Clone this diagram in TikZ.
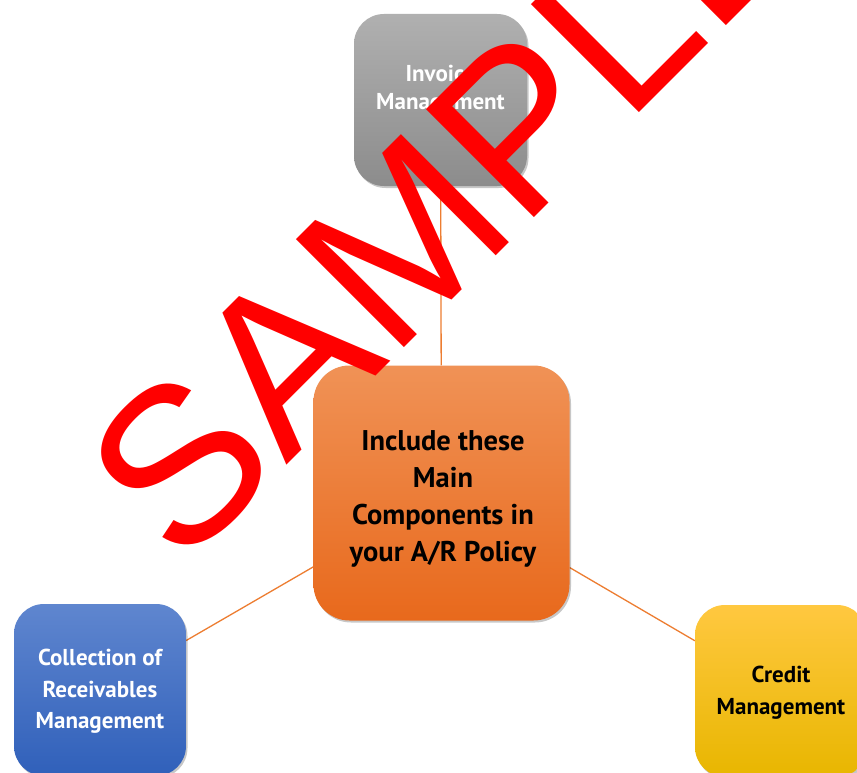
\documentclass[tikz,border=0pt]{standalone}
\usepackage{fontspec}
\setmainfont{PT Sans}
\newfontfamily\wmfont{Liberation Sans}
\usetikzlibrary{shadows}
\pgfdeclarelayer{bg}
\pgfsetlayers{bg,main}
\definecolor{grayT}{HTML}{B0B0B0}
\definecolor{grayB}{HTML}{8C8C8C}
\definecolor{oraT}{HTML}{F09256}
\definecolor{oraB}{HTML}{E8691C}
\definecolor{bluT}{HTML}{5F86CF}
\definecolor{bluB}{HTML}{3060BA}
\definecolor{yelT}{HTML}{FFC840}
\definecolor{yelB}{HTML}{E8B600}
\definecolor{conn}{HTML}{ED7D31}
\definecolor{wmred}{HTML}{FF0000}
\tikzset{
  box/.style={rectangle, rounded corners=30pt, draw=none, inner sep=0pt,
    minimum width=172pt, minimum height=172pt,
    drop shadow={shadow xshift=1.5pt, shadow yshift=-2pt, fill=black, opacity=0.22}},
  lbl/.style={align=center, inner sep=0pt, font=\bfseries\fontsize{23}{28}\selectfont},
  link/.style={draw=conn, line width=1.3pt}
}
\begin{document}
\begin{tikzpicture}[x=1pt,y=-1pt]
\useasboundingbox (0,0) rectangle (857,773);
% boxes
\node[box, top color=grayT, bottom color=grayB, minimum width=173pt] (inv) at (440.5,100) {};
\node[box, top color=oraT, bottom color=oraB, minimum width=256pt, minimum height=255pt, rounded corners=36pt] (ctr) at (441.5,493) {};
\node[box, top color=bluT, bottom color=bluB] (col) at (100,690) {};
\node[box, top color=yelT, bottom color=yelB] (cre) at (781,691) {};
% connectors
\begin{pgfonlayer}{bg}
\fill[white] (0,0) rectangle (857,773);
\draw[link] (ctr) -- (inv);
\draw[link] (ctr) -- (col);
\draw[link] (ctr) -- (cre);
\end{pgfonlayer}
% texts
\node[lbl, text=white] (invt) at (440.5,90) {Invoice\\Management};
\node[lbl, text=white, font=\bfseries\fontsize{23}{31.7}\selectfont] (colt) at (100,691.5) {Collection of\\Receivables\\Management};
\node[lbl, text=black, font=\bfseries\fontsize{23}{32}\selectfont] (cret) at (781,692.5) {Credit\\Management};
\node[lbl, text=black, font=\bfseries\fontsize{28.5}{37}\selectfont] (ctrt) at (443,499) {Include these\\Main\\Components in\\your A/R Policy};
% watermark
\node[anchor=base west, rotate=45, inner sep=0pt, text=wmred, font=\wmfont\fontsize{222}{222}\selectfont] (wm) at (181.6,570.4) {SAMPLE};
\end{tikzpicture}
\end{document}
